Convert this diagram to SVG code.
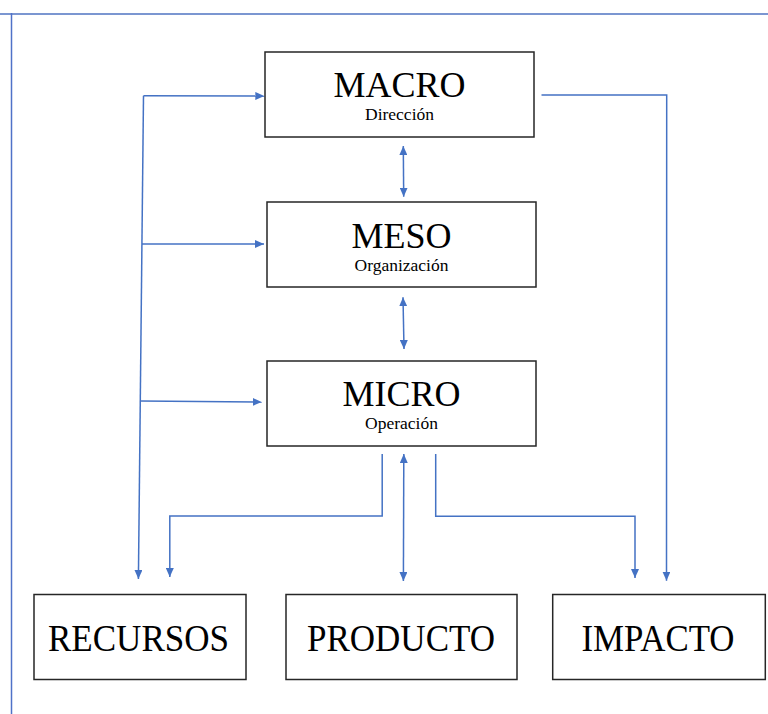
<svg xmlns="http://www.w3.org/2000/svg" width="768" height="714" viewBox="0 0 768 714">
  <style>
    .box { fill: #ffffff; stroke: #262626; stroke-width: 1.5; }
    .title { font-family: "Liberation Serif", "Times New Roman", serif; font-size: 36px; fill: #000; text-anchor: middle; }
    .sub { font-family: "Liberation Serif", "Times New Roman", serif; font-size: 17.5px; fill: #000; text-anchor: middle; }
    .big { font-family: "Liberation Serif", "Times New Roman", serif; font-size: 38px; fill: #000; text-anchor: middle; }
    .conn { fill: none; stroke: #4472c4; stroke-width: 1.5; }
  </style>
  <defs>
    <marker id="arrow" markerUnits="userSpaceOnUse" markerWidth="10" markerHeight="8" refX="9" refY="4" orient="auto-start-reverse" viewBox="0 0 10 8">
      <path d="M0,0 L9,4 L0,8 z" fill="#4472c4"/>
    </marker>
  </defs>
  <rect x="0" y="0" width="768" height="714" fill="#ffffff"/>
  <g id="frame">
    <line x1="0" y1="14" x2="768" y2="14" stroke="#7b96d1" stroke-width="2"/>
    <line x1="11.5" y1="13" x2="11.5" y2="714" stroke="#4f72c8" stroke-width="1.5"/>
  </g>
  <g id="connectors">
    <line class="conn" x1="143.5" y1="95.7" x2="138.4" y2="579" marker-end="url(#arrow)"/>
    <line class="conn" x1="143.5" y1="95.7" x2="264.3" y2="96" marker-end="url(#arrow)"/>
    <line class="conn" x1="142" y1="244" x2="264" y2="244" marker-end="url(#arrow)"/>
    <line class="conn" x1="140.4" y1="401" x2="261.7" y2="402" marker-end="url(#arrow)"/>
    <line class="conn" x1="403.3" y1="146" x2="403.7" y2="196.7" marker-start="url(#arrow)" marker-end="url(#arrow)"/>
    <line class="conn" x1="403" y1="297.3" x2="404" y2="349" marker-start="url(#arrow)" marker-end="url(#arrow)"/>
    <line class="conn" x1="403.8" y1="454" x2="403.4" y2="581" marker-start="url(#arrow)" marker-end="url(#arrow)"/>
    <polyline class="conn" points="382.2,454 382.2,516 169.8,516 169.8,577" marker-end="url(#arrow)"/>
    <polyline class="conn" points="435.7,454 435.7,516.3 635,516.3 635,578" marker-end="url(#arrow)"/>
    <polyline class="conn" points="541.5,95 666.7,95 666.5,580.7" marker-end="url(#arrow)"/>
  </g>
  <g id="macro">
    <rect class="box" x="265" y="52" width="269" height="85"/>
    <text class="title" x="399.5" y="97">MACRO</text>
    <text class="sub" x="399.5" y="120">Dirección</text>
  </g>
  <g id="meso">
    <rect class="box" x="267" y="202" width="269" height="85"/>
    <text class="title" x="401.5" y="248">MESO</text>
    <text class="sub" x="401.5" y="271">Organización</text>
  </g>
  <g id="micro">
    <rect class="box" x="267" y="361" width="269" height="85"/>
    <text class="title" x="401.5" y="406">MICRO</text>
    <text class="sub" x="401.5" y="429">Operación</text>
  </g>
  <g id="recursos">
    <rect class="box" x="34" y="594.5" width="212" height="85"/>
    <text class="big" x="138.5" y="651" textLength="181" lengthAdjust="spacingAndGlyphs">RECURSOS</text>
  </g>
  <g id="producto">
    <rect class="box" x="286" y="594.5" width="231" height="85"/>
    <text class="big" x="401" y="651" textLength="188" lengthAdjust="spacingAndGlyphs">PRODUCTO</text>
  </g>
  <g id="impacto">
    <rect class="box" x="552.7" y="594.5" width="212.6" height="85"/>
    <text class="big" x="658" y="651" textLength="153" lengthAdjust="spacingAndGlyphs">IMPACTO</text>
  </g>
</svg>
